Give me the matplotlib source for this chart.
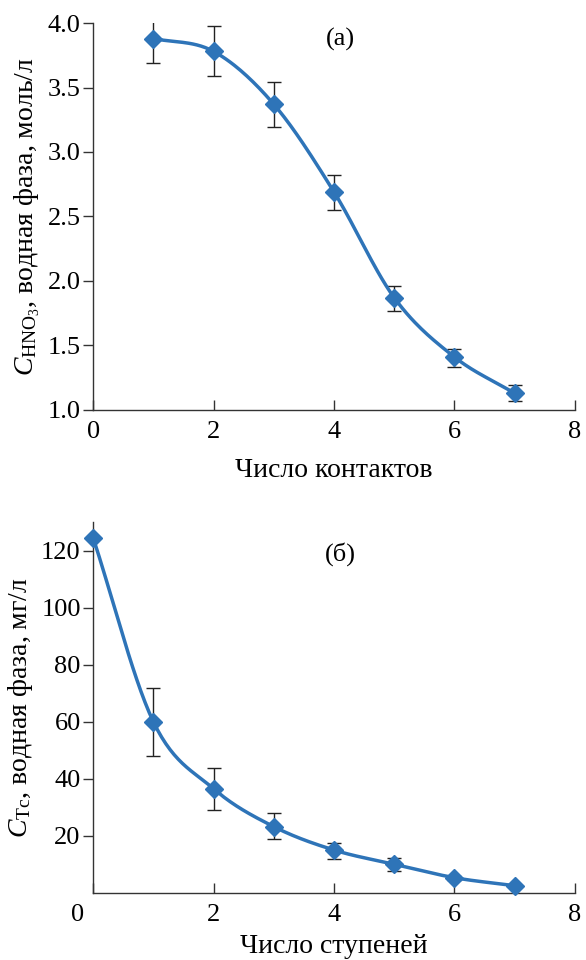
import matplotlib
matplotlib.use("Agg")
import matplotlib.pyplot as plt
import matplotlib.transforms as mtransforms
import numpy as np

plt.rcParams['font.family'] = ['Liberation Serif', 'DejaVu Serif']
plt.rcParams['mathtext.fontset'] = 'custom'
plt.rcParams['mathtext.rm'] = 'Liberation Serif'
plt.rcParams['mathtext.it'] = 'Liberation Serif:italic'

# panel (a)
contacts = [1, 2, 3, 4, 5, 6, 7]
hno3 = [3.88, 3.78, 3.37, 2.69, 1.87, 1.41, 1.13]
hno3_lo = [3.69, 3.59, 3.19, 2.55, 1.77, 1.33, 1.07]
hno3_hi = [4.03, 3.98, 3.54, 2.82, 1.96, 1.47, 1.19]

# panel (б)
stages = [0, 1, 2, 3, 4, 5, 6, 7]
tc = [124.5, 60, 36.5, 23.2, 15.0, 10.0, 5.3, 2.5]
tc_lo = [124.5, 48, 29, 18.7, 12.0, 7.7, 4.5, 2.5]
tc_hi = [124.5, 72, 43.7, 28, 17.6, 12.3, 6.0, 2.5]

blue = '#2e74b8'
fs = 19
lfs = 20


def smooth(x, y, n=30):
    # Catmull-Rom curve through the points (like Excel smoothed line)
    x = np.asarray(x, float)
    y = np.asarray(y, float)
    px = np.concatenate([[2 * x[0] - x[1]], x, [2 * x[-1] - x[-2]]])
    py = np.concatenate([[2 * y[0] - y[1]], y, [2 * y[-1] - y[-2]]])
    xs, ys = [], []
    t = np.linspace(0, 1, n)
    for i in range(1, len(px) - 2):
        for p, out in ((px, xs), (py, ys)):
            p0, p1, p2, p3 = p[i - 1], p[i], p[i + 1], p[i + 2]
            out.append(0.5 * (2 * p1 + (-p0 + p2) * t + (2 * p0 - 5 * p1 + 4 * p2 - p3) * t ** 2
                              + (-p0 + 3 * p1 - 3 * p2 + p3) * t ** 3))
    return np.concatenate(xs), np.concatenate(ys)


def style(ax):
    ax.spines['top'].set_visible(False)
    ax.spines['right'].set_visible(False)
    for s in ('left', 'bottom'):
        ax.spines[s].set_linewidth(1.0)
        ax.spines[s].set_color('#333333')
    ax.tick_params(axis='x', direction='in', length=7, width=1, labelsize=fs, pad=8, color='#333333')
    ax.tick_params(axis='y', direction='out', length=7, width=1, labelsize=fs, pad=2, color='#333333')
    ax.set_xlim(0, 8)
    ax.set_xticks([0, 2, 4, 6, 8])


fig = plt.figure(figsize=(5.86, 9.6), dpi=100)

ax1 = fig.add_axes([0.159, 0.573, 0.822, 0.403])
style(ax1)
sx, sy = smooth(contacts, hno3)
ax1.plot(sx, sy, color=blue, lw=2.5, zorder=2)
ax1.errorbar(contacts, hno3,
             yerr=[np.subtract(hno3, hno3_lo), np.subtract(hno3_hi, hno3)],
             fmt='none', ecolor='#222222', elinewidth=1, capsize=5, capthick=1, zorder=1)
ax1.plot(contacts, hno3, 'D', color=blue, ms=9.5, zorder=3)
ax1.set_ylim(1.0, 4.0)
ax1.set_yticks(np.arange(1.0, 4.01, 0.5))
ax1.set_yticklabels(['%.1f' % v for v in np.arange(1.0, 4.01, 0.5)])
ax1.set_xlabel('Число контактов', fontsize=lfs, labelpad=11)
ax1.set_ylabel('$C_{\\mathrm{HNO_3}}$, водная фаза, моль/л', fontsize=lfs, labelpad=4)
ax1.text(4.1, 3.87, '(a)', fontsize=fs, ha='center', va='center')

ax2 = fig.add_axes([0.159, 0.070, 0.822, 0.386])
style(ax2)
sx, sy = smooth(stages, tc)
ax2.plot(sx, sy, color=blue, lw=2.5, zorder=2)
ax2.errorbar(stages, tc,
             yerr=[np.subtract(tc, tc_lo), np.subtract(tc_hi, tc)],
             fmt='none', ecolor='#222222', elinewidth=1, capsize=5, capthick=1, zorder=1)
ax2.plot(stages, tc, 'D', color=blue, ms=9.5, zorder=3, clip_on=False)
ax2.set_ylim(0, 130)
ax2.set_yticks([20, 40, 60, 80, 100, 120])
ax2.set_xlabel('Число ступеней', fontsize=lfs, labelpad=6)
ax2.set_ylabel('$C_{\\mathrm{Tc}}$, водная фаза, мг/л', fontsize=lfs, labelpad=4)
ax2.text(4.1, 119, '(б)', fontsize=fs, ha='center', va='center')
# the "0" label in the original sits a little left of the axis
lab0 = ax2.get_xticklabels()[0]
lab0.set_transform(lab0.get_transform() + mtransforms.ScaledTranslation(-0.16, 0, fig.dpi_scale_trans))

fig.savefig('out.png', dpi=100)
